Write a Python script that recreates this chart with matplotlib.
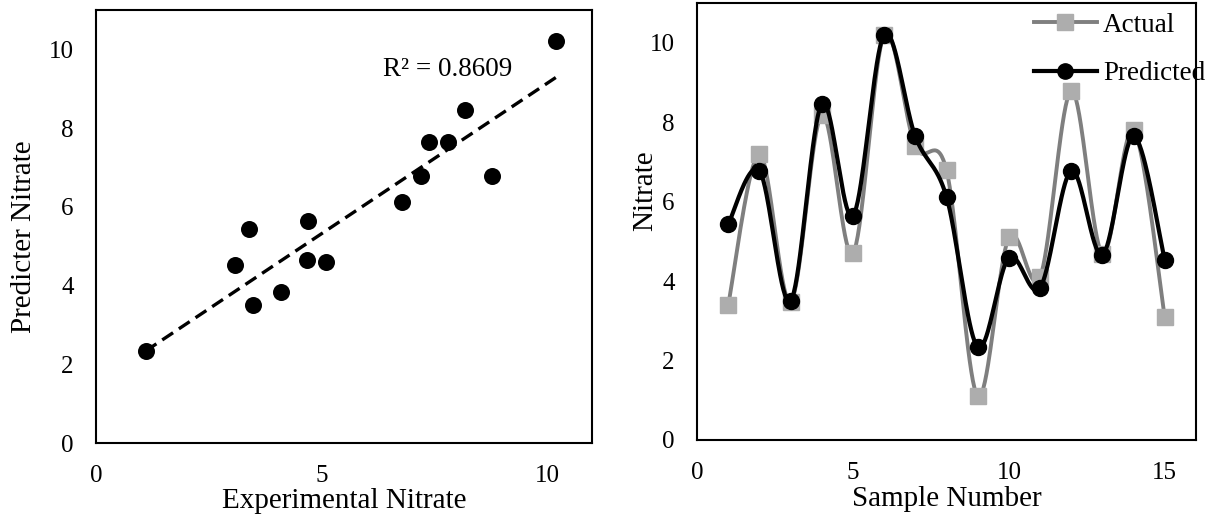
import numpy as np
import matplotlib
matplotlib.use("Agg")
import matplotlib.pyplot as plt

plt.rcParams['font.family'] = ['Liberation Serif', 'DejaVu Serif']

sample = [1, 2, 3, 4, 5, 6, 7, 8, 9, 10, 11, 12, 13, 14, 15]
actual = [3.40, 7.20, 3.48, 8.19, 4.70, 10.20, 7.39, 6.79, 1.10, 5.10, 4.10, 8.79, 4.69, 7.80, 3.09]
predicted = [5.43, 6.78, 3.50, 8.46, 5.64, 10.20, 7.64, 6.12, 2.34, 4.59, 3.83, 6.78, 4.66, 7.65, 4.53]
r2_label = "R² = 0.8609"
left_xticks = [0, 5, 10]
right_xticks = [0, 5, 10, 15]
yticks = [0, 2, 4, 6, 8, 10]

TICK_FS = 18
TITLE_FS = 21
TEXT_FS = 19.5


def smooth(x, y, n=40):
    x = np.asarray(x, float)
    y = np.asarray(y, float)
    P = np.column_stack([x, y])
    Pe = np.vstack([P[0], P, P[-1]])
    out = []
    t = np.linspace(0, 1, n)[:, None]
    for i in range(len(P) - 1):
        p0 = Pe[i + 1]
        p3 = Pe[i + 2]
        c1 = p0 + (Pe[i + 2] - Pe[i]) / 6.0
        c2 = p3 - (Pe[i + 3] - Pe[i + 1]) / 6.0
        seg = ((1 - t) ** 3) * p0 + 3 * ((1 - t) ** 2) * t * c1 + 3 * (1 - t) * t ** 2 * c2 + t ** 3 * p3
        out.append(seg if i == 0 else seg[1:])
    S = np.vstack(out)
    return S[:, 0], S[:, 1]


fig = plt.figure(figsize=(12.18, 5.18), dpi=100)

# Left: scatter
ax1 = fig.add_axes([96 / 1218, 1 - 443 / 518, 496 / 1218, 433 / 518])
ax1.scatter(actual, predicted, s=150, color='black', zorder=3, linewidths=0)
coef = np.polyfit(actual, predicted, 1)
xs = np.array([min(actual), max(actual)])
ax1.plot(xs, np.polyval(coef, xs), color='black', lw=2.4, dashes=(3.9, 2.1), zorder=2)
ax1.text(6.36, 9.5, r2_label, fontsize=TEXT_FS, ha='left', va='center')
ax1.set_xlim(0, 11)
ax1.set_ylim(0, 11)
ax1.set_xticks(left_xticks)
ax1.set_yticks(yticks)
ax1.set_xlabel("Experimental Nitrate", fontsize=TITLE_FS, va='center')
ax1.xaxis.set_label_coords(0.5, -0.133)
ax1.set_ylabel("Predicter Nitrate", fontsize=TITLE_FS, va='center')
ax1.yaxis.set_label_coords(-0.145, 0.476)

# Right: line
ax2 = fig.add_axes([697 / 1218, 1 - 440 / 518, 499 / 1218, 437 / 518])
sx, sy = smooth(sample, actual)
ax2.plot(sx, sy, color='#7f7f7f', lw=2.8, zorder=2)
ax2.plot(sample, actual, ls='none', marker='s', ms=11.5, color='#adadad', mec='#adadad', zorder=3)
px, py = smooth(sample, predicted)
ax2.plot(px, py, color='black', lw=3.0, zorder=4)
ax2.plot(sample, predicted, ls='none', marker='o', ms=11.5, color='black', zorder=5)
h1 = plt.Line2D([], [], color='#7f7f7f', lw=2.8, marker='s', ms=11.5, mfc='#adadad', mec='#adadad')
h2 = plt.Line2D([], [], color='black', lw=3.0, marker='o', ms=11)
ax2.legend([h1, h2], ["Actual", "Predicted"], loc='upper left', bbox_to_anchor=(0.675, 0.978),
           frameon=False, fontsize=TEXT_FS, handlelength=2.33, handletextpad=0.22, labelspacing=0.88,
           borderaxespad=0.0, borderpad=0.0)
ax2.set_xlim(0, 16)
ax2.set_ylim(0, 11)
ax2.set_xticks(right_xticks)
ax2.set_yticks(yticks)
ax2.set_xlabel("Sample Number", fontsize=TITLE_FS, va='center')
ax2.xaxis.set_label_coords(0.5, -0.136)
ax2.set_ylabel("Nitrate", fontsize=TITLE_FS, va='center')
ax2.yaxis.set_label_coords(-0.104, 0.570)

for ax in (ax1, ax2):
    for sp in ax.spines.values():
        sp.set_linewidth(1.5)
        sp.set_color('black')
    ax.tick_params(axis='x', length=0, labelsize=TICK_FS, pad=16)
    ax.tick_params(axis='y', length=0, labelsize=TICK_FS, pad=16)

fig.savefig("out.png", dpi=100)
